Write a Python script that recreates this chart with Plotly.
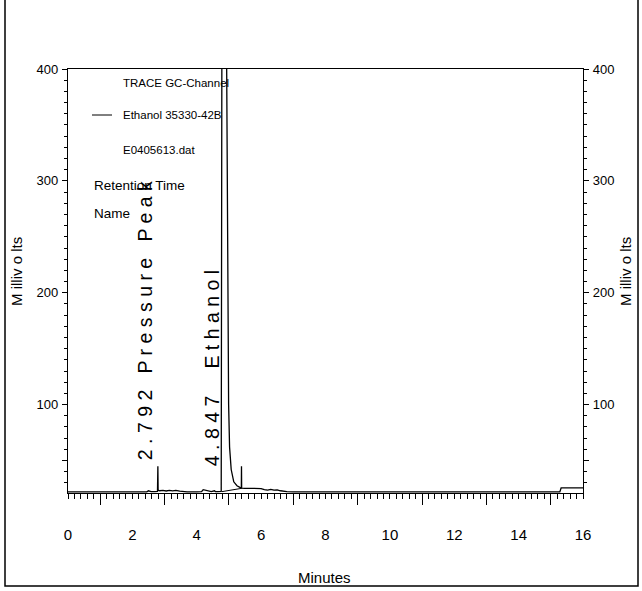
import plotly.graph_objects as go

# ---- data ----
time_min = [0.0, 0.5, 1.0, 1.5, 2.0, 2.45, 2.5, 2.58, 2.7, 2.78, 2.792, 2.80, 2.85, 2.95,
            3.05, 3.15, 3.25, 3.35, 3.47, 3.7, 4.0, 4.15, 4.2, 4.3, 4.45, 4.55, 4.58,
            4.65, 4.76, 4.79, 4.847, 4.93, 4.96, 4.99, 5.02, 5.07, 5.15, 5.25, 5.34,
            5.385, 5.39, 5.395, 5.5, 5.8, 6.0, 6.1, 6.2, 6.3, 6.4, 6.5, 6.6, 6.8, 7.0,
            8.0, 9.0, 10.0, 11.0, 12.0, 13.0, 14.0, 15.0, 15.28, 15.32, 15.6, 16.0]
signal_mv = [22.0, 22.0, 22.0, 22.0, 22.0, 22.0, 23.0, 22.3, 22.2, 22.5, 45.0, 23.5, 23.0, 23.4,
             22.8, 23.4, 22.9, 23.3, 22.6, 22.0, 22.0, 22.2, 24.0, 23.5, 22.2, 23.0, 22.3,
             22.2, 22.5, 600.0, 1400.0, 400.0, 200.0, 100.0, 62.0, 42.0, 31.0, 27.5, 26.0,
             25.5, 45.0, 25.3, 25.2, 25.0, 25.0, 24.0, 23.6, 24.2, 23.5, 23.8, 23.0, 22.3, 22.0,
             22.0, 22.0, 22.0, 22.0, 22.0, 22.0, 22.0, 22.0, 22.0, 25.5, 25.5, 25.5]

# integration baseline drawn under the ethanol peak
base_time = [4.78, 5.40]
base_mv = [22.2, 25.2]

peak_times = [2.792, 4.847]
peak_names = ["Pressure Peak", "Ethanol"]

y_major = [100, 200, 300, 400]
x_labels = [0, 2, 4, 6, 8, 10, 12, 14, 16]
x_long_ticks = [1, 3, 5, 7, 9, 11, 13, 15]

FONT = "Liberation Sans, Arial, sans-serif"
FIG_W, FIG_H = 642, 591

# plot area in pixels
L, R, T, B = 68, 583, 69, 493
W, H = R - L, B - T


def px(x):
    return (x - L) / W


def py(y):
    return (B - y) / H


def spaced(s):
    return " ".join(list(s))


fig = go.Figure()
fig.add_trace(go.Scatter(x=time_min, y=signal_mv, mode="lines",
                         line=dict(color="black", width=1.3), showlegend=False,
                         hoverinfo="skip"))
fig.add_trace(go.Scatter(x=base_time, y=base_mv, mode="lines",
                         line=dict(color="black", width=1), showlegend=False,
                         hoverinfo="skip"))

annotations = []
# peak labels (rotated, letter-spaced)
label_x_offsets = [-0.40, -0.35]
label_y_bottoms = [49, 43]
label_gaps = ["   ", "     "]
for t, name, dx, yb, gap in zip(peak_times, peak_names, label_x_offsets, label_y_bottoms, label_gaps):
    txt = spaced(f"{t:.3f}") + gap + spaced(name)
    annotations.append(dict(x=t + dx, y=yb, xref="x", yref="y", text=txt,
                            textangle=-90, showarrow=False, xanchor="center",
                            yanchor="bottom", font=dict(family=FONT, size=19.5, color="black")))

# header block
header = [
    ("TRACE GC-Channel", 121, 83, 11.5),
    ("Ethanol 35330-42B", 121, 115, 11.5),
    ("E0405613.dat", 121, 150, 11.5),
    ("Retention Time", 92, 185, 13.5),
    ("Name", 92, 213, 13.5),
]
for txt, x, y, s in header:
    annotations.append(dict(x=px(x), y=py(y), xref="paper", yref="paper", text=txt,
                            showarrow=False, xanchor="left", yanchor="middle",
                            font=dict(family=FONT, size=s, color="black")))

# axis titles
for xpos in (16, 625):
    annotations.append(dict(x=px(xpos), y=py(272), xref="paper", yref="paper",
                            text="M illiv o lts", textangle=-90, showarrow=False,
                            xanchor="center", yanchor="middle",
                            font=dict(family=FONT, size=15, color="black")))
annotations.append(dict(x=px(324), y=py(577), xref="paper", yref="paper",
                        text="Minutes", showarrow=False,
                        xanchor="center", yanchor="middle",
                        font=dict(family=FONT, size=15, color="black")))

shapes = [
    # outer scan frame
    dict(type="rect", xref="paper", yref="paper", x0=px(5), x1=px(638),
         y0=py(586), y1=py(-3), line=dict(color="black", width=1.5)),
    # legend line sample
    dict(type="line", xref="paper", yref="paper", x0=px(92), x1=px(112),
         y0=py(115), y1=py(115), line=dict(color="black", width=1)),
]

fig.update_layout(
    width=FIG_W, height=FIG_H,
    margin=dict(l=L, r=FIG_W - R, t=T, b=FIG_H - B, autoexpand=False),
    paper_bgcolor="white", plot_bgcolor="white",
    showlegend=False,
    font=dict(family=FONT, color="black"),
    annotations=annotations,
    shapes=shapes,
    xaxis=dict(range=[0, 16], tickvals=x_labels, ticktext=[str(v) for v in x_labels],
               ticks="", showline=True, linecolor="black", linewidth=1.2, mirror=True,
               showgrid=False, zeroline=False, ticklabelstandoff=28,
               tickfont=dict(family=FONT, size=15),
               minor=dict(dtick=0.2, ticks="outside", ticklen=5, tickcolor="black",
                          tickwidth=1, showgrid=False)),
    xaxis2=dict(range=[0, 16], overlaying="x", side="bottom", anchor="y",
                tickvals=x_long_ticks, ticks="outside", ticklen=11, tickcolor="black",
                tickwidth=1, showticklabels=False, showline=False, showgrid=False,
                zeroline=False),
    yaxis=dict(range=[21, 400], tickvals=[50] + y_major, ticktext=[""] + [str(v) for v in y_major],
               ticks="outside", ticklen=5, tickcolor="black", tickwidth=1,
               showline=True, linecolor="black", linewidth=1.2, showgrid=False,
               zeroline=False, tickfont=dict(family=FONT, size=13), ticklabelstandoff=1,
               minor=dict(dtick=10, ticks="outside", ticklen=3, tickcolor="black",
                          tickwidth=1, showgrid=False)),
    yaxis2=dict(range=[21, 400], overlaying="y", side="right", anchor="x",
                tickvals=[50] + y_major, ticktext=[""] + [str(v) for v in y_major],
                ticks="outside", ticklen=5, tickcolor="black", tickwidth=1,
                showline=True, linecolor="black", linewidth=1.2, showgrid=False,
                zeroline=False, tickfont=dict(family=FONT, size=13), ticklabelstandoff=1,
                minor=dict(dtick=10, ticks="outside", ticklen=3, tickcolor="black",
                           tickwidth=1, showgrid=False)),
)
# attach an invisible trace to the secondary axes so they render
fig.add_trace(go.Scatter(x=[0], y=[21], xaxis="x2", yaxis="y2", mode="markers",
                         marker=dict(opacity=0), showlegend=False, hoverinfo="skip"))

fig.write_html("out.html", config={"displayModeBar": False},
               post_script="document.body.style.margin='0';document.body.style.overflow='hidden';")
